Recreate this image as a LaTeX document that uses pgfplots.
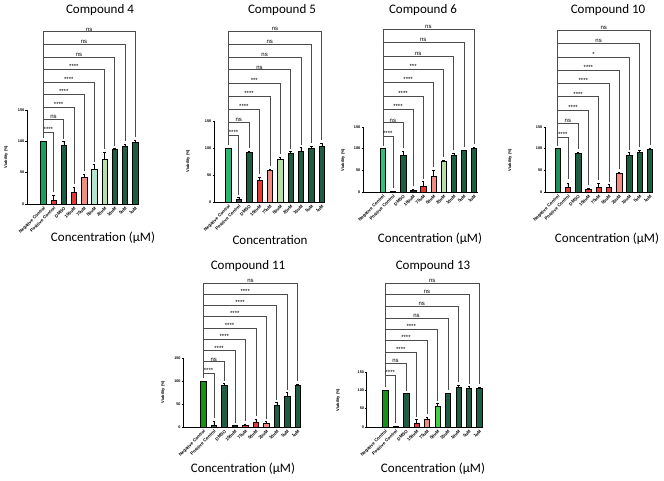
\documentclass[border=0pt]{standalone}
\usepackage{pgfplots}
\pgfplotsset{compat=1.18}
\usepackage{fontspec}
\setmainfont{Liberation Sans}
\newfontfamily\arialf{Liberation Sans}
\newfontfamily\calib{Carlito}
\definecolor{dkg}{HTML}{1D5E43}
\definecolor{rd}{HTML}{E53935}
\definecolor{sal}{HTML}{F28B82}
\definecolor{pgr}{HTML}{B7E0A5}
\definecolor{paq}{HTML}{B4E6CF}
\definecolor{gA}{HTML}{1A9D5F}
\definecolor{gB}{HTML}{27B86E}
\definecolor{gC}{HTML}{2FC07A}
\definecolor{gD}{HTML}{1F8F5A}
\definecolor{gE}{HTML}{1A8F1A}
\definecolor{bg}{HTML}{3FCF3F}
\definecolor{dgy}{HTML}{444444}
\definecolor{blk}{HTML}{222222}
\newcommand{\xtf}{\arialf\bfseries\fontsize{4.4}{5}\selectfont}
\newcommand{\ytf}{\arialf\bfseries\fontsize{3.8}{4.5}\selectfont}
\newcommand{\bb}[4]{\addplot[ybar, bar width=5.4pt, bar shift=0pt, fill=#4, draw=black, line width=0.35pt,
  error bars/.cd, y dir=plus, y explicit, error bar style={black, line width=0.35pt},
  error mark options={rotate=90, mark size=1.2pt, black, line width=0.35pt}] coordinates {(#1,#2) +- (0,#3)};}
\newcommand{\br}[5]{\draw[black!70, line width=0.45pt] (axis cs:1,#3) -- (axis cs:#1,#3) -- (axis cs:#1,#4);
  \node[anchor=south, inner sep=0.4pt, font=\arialf\fontsize{6}{6}\selectfont] at (axis cs:#2,#3) {#5};}
\pgfplotsset{gp/.style={scale only axis, anchor=south west, ymin=0, ymax=150, ytick={0,50,100,150},
  xtick={0,...,10}, xticklabels={,Negative Control,Positive Control,DMSO,100uM,75uM,50uM,25uM,10uM,5uM,1uM},
  axis lines*=left, tick align=outside, major tick length=1.5pt,
  x tick label style={rotate=45, anchor=north east, font=\xtf, inner sep=0.6pt},
  y tick label style={font=\ytf, inner sep=1pt}, clip=false,
  axis line style={line width=0.6pt}, tick style={black, line width=0.5pt},
  /pgf/number format/assume math mode=true}}
\begin{document}
\begin{tikzpicture}
\useasboundingbox (0,0) rectangle (664pt,481pt);
% ---------------- Compound 4
\begin{axis}[gp, at={(27pt,277pt)}, width=111.3pt, height=94pt, xmin=-0.6, xmax=10.32]
\bb{1}{100}{0}{gA}\bb{2}{6.5}{8}{rd}\bb{3}{94}{6}{dkg}\bb{4}{18.5}{9}{rd}\bb{5}{43.5}{4}{sal}
\bb{6}{56}{7}{paq}\bb{7}{72}{11}{pgr}\bb{8}{87}{2}{dkg}\bb{9}{92.5}{3}{dkg}\bb{10}{98.5}{4}{dkg}
\draw[black!70, line width=0.45pt] (axis cs:1,275) -- (axis cs:1,105);
\br{2}{1.5}{115}{19}{****}\br{3}{2}{135}{104}{ns}\br{4}{2.5}{155}{32}{****}\br{5}{3}{175}{52}{****}
\br{6}{3.5}{195}{67}{****}\br{7}{4}{215}{87}{****}\br{8}{4.5}{235}{93}{ns}\br{9}{5}{255}{100}{ns}\br{10}{5.5}{275}{107}{ns}
\end{axis}
% ---------------- Compound 5
\begin{axis}[gp, at={(214pt,279pt)}, width=111pt, height=81pt, xmin=-0.38, xmax=10.32]
\bb{1}{100}{0}{gB}\bb{2}{5}{3}{dgy}\bb{3}{92}{3}{dkg}\bb{4}{41}{5}{rd}\bb{5}{59}{2}{sal}
\bb{6}{80}{3}{pgr}\bb{7}{90}{4}{dkg}\bb{8}{94}{7}{dkg}\bb{9}{99}{5}{dkg}\bb{10}{104}{5}{dkg}
\draw[black!70, line width=0.45pt] (axis cs:1,317) -- (axis cs:1,106);
\br{2}{1.5}{124}{13}{****}\br{3}{2}{148}{100}{ns}\br{4}{2.5}{172}{51}{****}\br{5}{3}{196}{66}{****}
\br{6}{3.5}{220}{88}{***}\br{7}{4}{245}{99}{ns}\br{8}{4.5}{269}{106}{ns}\br{9}{5}{293}{109}{ns}\br{10}{5.5}{317}{114}{ns}
\end{axis}
% ---------------- Compound 6
\begin{axis}[gp, at={(363pt,289pt)}, width=115pt, height=65pt, xmin=-0.95, xmax=10.4]
\bb{1}{100}{0}{gC}\bb{2}{2}{0.5}{blk}\bb{3}{86}{9}{dkg}\bb{4}{4}{2}{blk}\bb{5}{13}{11}{rd}
\bb{6}{36}{14}{sal}\bb{7}{72}{1}{pgr}\bb{8}{86}{4}{dkg}\bb{9}{96}{1}{dkg}\bb{10}{100}{4}{dkg}
\draw[black!70, line width=0.45pt] (axis cs:1,376) -- (axis cs:1,107);
\br{2}{1.5}{129}{9}{****}\br{3}{2}{160}{102}{ns}\br{4}{2.5}{191}{13}{****}\br{5}{3}{222}{31}{****}
\br{6}{3.5}{253}{57}{****}\br{7}{4}{283}{80}{***}\br{8}{4.5}{314}{97}{ns}\br{9}{5}{345}{104}{ns}\br{10}{5.5}{376}{111}{ns}
\end{axis}
% ---------------- Compound 10
\begin{axis}[gp, at={(545pt,289pt)}, width=108pt, height=65pt, xmin=-0.24, xmax=10.32]
\bb{1}{100}{0}{gD}\bb{2}{11.5}{10}{rd}\bb{3}{90}{2}{dkg}\bb{4}{7}{2}{rd}\bb{5}{11.5}{9}{rd}
\bb{6}{10}{7}{rd}\bb{7}{44}{2}{sal}\bb{8}{85}{6}{dkg}\bb{9}{92}{4}{dkg}\bb{10}{98}{4}{dkg}
\draw[black!70, line width=0.45pt] (axis cs:1,374) -- (axis cs:1,107);
\br{2}{1.5}{127}{29}{****}\br{3}{2}{158}{99}{ns}\br{4}{2.5}{189}{16}{****}\br{5}{3}{220}{28}{****}
\br{6}{3.5}{251}{24}{****}\br{7}{4}{281}{53}{****}\br{8}{4.5}{312}{98}{*}\br{9}{5}{343}{103}{ns}\br{10}{5.5}{374}{109}{ns}
\end{axis}
% ---------------- Compound 11
\begin{axis}[gp, at={(183.3pt,54pt)}, width=117.4pt, height=69pt, xmin=-0.91, xmax=10.29]
\bb{1}{100}{0}{gE}\bb{2}{4}{9}{dgy}\bb{3}{90}{5}{dkg}\bb{4}{3}{0.5}{blk}\bb{5}{4}{3}{rd}
\bb{6}{10}{8}{rd}\bb{7}{9}{3}{sal}\bb{8}{47}{6}{dkg}\bb{9}{68}{7}{dkg}\bb{10}{90}{4}{dkg}
\draw[black!70, line width=0.45pt] (axis cs:1,313) -- (axis cs:1,106);
\br{2}{1.5}{117}{19}{****}\br{3}{2}{142}{101}{ns}\br{4}{2.5}{166}{9}{****}\br{5}{3}{191}{13}{****}
\br{6}{3.5}{215}{24}{****}\br{7}{4}{240}{18}{****}\br{8}{4.5}{264}{59}{****}\br{9}{5}{289}{81}{****}\br{10}{5.5}{313}{100}{ns}
\end{axis}
% ---------------- Compound 13
\begin{axis}[gp, at={(366.7pt,54pt)}, width=116pt, height=55pt, xmin=-0.75, xmax=10.32]
\bb{1}{100}{0}{gE}\bb{2}{3}{0.5}{blk}\bb{3}{92}{0.5}{dkg}\bb{4}{10}{10}{rd}\bb{5}{22}{6}{sal}
\bb{6}{57}{8}{bg}\bb{7}{92}{0.5}{dkg}\bb{8}{108}{7}{dkg}\bb{9}{107}{3}{dkg}\bb{10}{105}{4}{dkg}
\draw[black!70, line width=0.45pt] (axis cs:1,392) -- (axis cs:1,108);
\br{2}{1.5}{142}{10}{****}\br{3}{2}{173}{99}{ns}\br{4}{2.5}{205}{27}{****}\br{5}{3}{236}{35}{****}
\br{6}{3.5}{267}{72}{****}\br{7}{4}{298}{100}{ns}\br{8}{4.5}{330}{122}{ns}\br{9}{5}{361}{117}{ns}\br{10}{5.5}{392}{116}{ns}
\end{axis}
% ---------------- titles, y labels, x labels
\begin{scope}[every node/.style={font=\calib\fontsize{13}{15}\selectfont, inner sep=0pt}]
\node at (100pt,471pt) {Compound 4};
\node at (282pt,471pt) {Compound 5};
\node at (423pt,471pt) {Compound 6};
\node at (608pt,471pt) {Compound 10};
\node at (248pt,215pt) {Compound 11};
\node at (433pt,215pt) {Compound 13};
\node at (103pt,243pt) {Concentration (μM)};
\node at (270pt,241pt) {Concentration};
\node at (430pt,242pt) {Concentration (μM)};
\node at (607pt,242pt) {Concentration (μM)};
\node at (243pt,12pt) {Concentration (μM)};
\node at (433pt,12pt) {Concentration (μM)};
\end{scope}
\begin{scope}[every node/.style={font=\arialf\bfseries\fontsize{4}{5}\selectfont, rotate=90, inner sep=0pt}]
\node at (6pt,324pt) {Viability (\%)};
\node at (188pt,320pt) {Viability (\%)};
\node at (343pt,321pt) {Viability (\%)};
\node at (510pt,321pt) {Viability (\%)};
\node at (163pt,89pt) {Viability (\%)};
\node at (338pt,81pt) {Viability (\%)};
\end{scope}
\end{tikzpicture}
\end{document}
